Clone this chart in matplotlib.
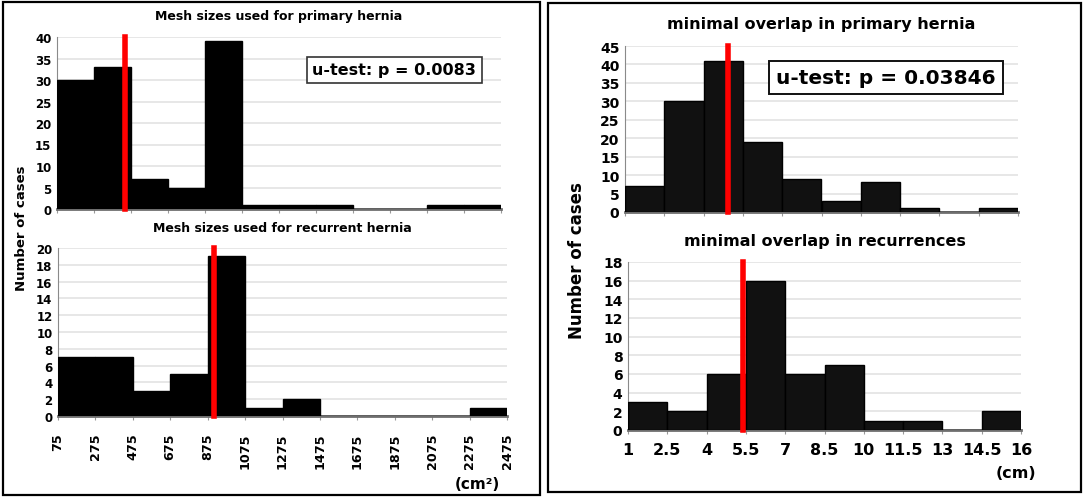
"""Mesh size / minimal overlap histograms, primary vs recurrent hernia."""
import matplotlib
matplotlib.use('Agg')
import matplotlib.pyplot as plt
from matplotlib.patches import Rectangle
import numpy as np

plt.rcParams['font.family'] = 'DejaVu Sans'
plt.rcParams['font.weight'] = 'bold'

# mesh sizes (cm²), 200-wide bins from 75 to 2475
mesh_edges = [75, 275, 475, 675, 875, 1075, 1275, 1475, 1675, 1875, 2075, 2275, 2475]
mesh_primary = [30, 33, 7, 5, 39, 1, 1, 1, 0, 0, 1, 1]
mesh_recurrent = [7, 7, 3, 5, 19, 1, 2, 0, 0, 0, 0, 1]
mesh_median_primary = 440
mesh_median_recurrent = 910

# minimal overlap (cm), 1.5-wide bins from 1 to 16
overlap_edges = [1, 2.5, 4, 5.5, 7, 8.5, 10, 11.5, 13, 14.5, 16]
overlap_labels = ['1', '2.5', '4', '5.5', '7', '8.5', '10', '11.5', '13', '14.5', '16']
overlap_primary = [7, 30, 41, 19, 9, 3, 8, 1, 0, 1]
overlap_recurrent = [3, 2, 6, 16, 6, 7, 1, 1, 0, 2]
overlap_median_primary = 4.95
overlap_median_recurrent = 5.4

W, H = 1084, 502
fig = plt.figure(figsize=(W / 100, H / 100), dpi=100)


def px(x0, y0, x1, y1):
    return [x0 / W, 1 - y1 / H, (x1 - x0) / W, (y1 - y0) / H]


def hist_axes(rect, edges, counts, median, ymax, ystep, fc, tick_fs):
    ax = fig.add_axes(px(*rect))
    edges = np.asarray(edges, dtype=float)
    ax.bar(edges[:-1], counts, width=np.diff(edges), align='edge',
           color=fc, edgecolor='#000000', linewidth=1.0, zorder=3)
    ax.axvline(median, color='#ff0000', lw=4, zorder=4, clip_on=False)
    ax.set_xlim(edges[0], edges[-1])
    ax.set_ylim(0, ymax)
    ax.set_yticks(np.arange(0, ymax + 0.1, ystep))
    ax.set_xticks(edges)
    ax.grid(axis='y', color='#e3e3e3', lw=1.2)
    ax.set_axisbelow(True)
    for s in ('top', 'right'):
        ax.spines[s].set_visible(False)
    ax.spines['left'].set_color('#8a8a8a')
    ax.spines['bottom'].set_color('#6e6e6e')
    ax.spines['bottom'].set_linewidth(2)
    ax.tick_params(axis='y', length=0, labelsize=tick_fs, pad=4)
    ax.tick_params(axis='x', length=3, color='#999999')
    for t in ax.get_yticklabels():
        t.set_fontweight('bold')
    return ax


# ---- left panel: mesh sizes ----
ax1 = hist_axes((57, 38, 501, 210), mesh_edges, mesh_primary, mesh_median_primary,
                40, 5, '#000000', 8.5)
ax1.set_xticklabels([])
ax1.set_title('Mesh sizes used for primary hernia', fontsize=9, fontweight='bold', pad=13)
ax1.text(0.575, 0.81, 'u-test: p = 0.0083', transform=ax1.transAxes, fontsize=11.5,
         fontweight='bold', va='center', ha='left',
         bbox=dict(boxstyle='square,pad=0.35', fc='white', ec='#333333', lw=1.2))

ax2 = hist_axes((58, 249, 507, 417), mesh_edges, mesh_recurrent, mesh_median_recurrent,
                20, 2, '#000000', 8.5)
ax2.set_xticklabels([str(e) for e in mesh_edges], rotation=90, fontsize=9.2, fontweight='bold')
ax2.tick_params(axis='x', pad=9)
ax2.set_title('Mesh sizes used for recurrent hernia', fontsize=9, fontweight='bold', pad=12)

fig.text(22 / W, 1 - 228 / H, 'Number of cases', rotation=90, ha='center', va='center',
         fontsize=9.5, fontweight='bold')
fig.text(477 / W, 1 - 485 / H, '(cm²)', ha='center', va='center', fontsize=11, fontweight='bold')

# ---- right panel: minimal overlap ----
ax3 = hist_axes((625, 47, 1018, 213), overlap_edges, overlap_primary, overlap_median_primary,
                45, 5, '#111111', 10)
ax3.set_xticklabels([])
ax3.set_title('minimal overlap in primary hernia', fontsize=11.5, fontweight='bold', pad=13)
ax3.text(0.385, 0.81, 'u-test: p = 0.03846', transform=ax3.transAxes, fontsize=14.5,
         fontweight='bold', va='center', ha='left',
         bbox=dict(boxstyle='square,pad=0.35', fc='white', ec='#111111', lw=1.4))

ax4 = hist_axes((628, 263, 1021, 431), overlap_edges, overlap_recurrent, overlap_median_recurrent,
                18, 2, '#111111', 10)
ax4.set_xticklabels(overlap_labels, fontsize=11.5, fontweight='bold')
ax4.tick_params(axis='x', pad=6)
ax4.set_title('minimal overlap in recurrences', fontsize=11.5, fontweight='bold', pad=12)

fig.text(577 / W, 1 - 261 / H, 'Number of cases', rotation=90, ha='center', va='center',
         fontsize=12, fontweight='bold')
fig.text(1016 / W, 1 - 473 / H, '(cm)', ha='center', va='center', fontsize=11.5, fontweight='bold')

# panel frames
for x0, y0, x1, y1 in [(3, 3, 540, 496), (548, 4, 1081, 493)]:
    fig.add_artist(Rectangle((x0 / W, 1 - y1 / H), (x1 - x0) / W, (y1 - y0) / H,
                             transform=fig.transFigure, fill=False, ec='#000000', lw=1.6))

fig.savefig('out.png', dpi=100)
